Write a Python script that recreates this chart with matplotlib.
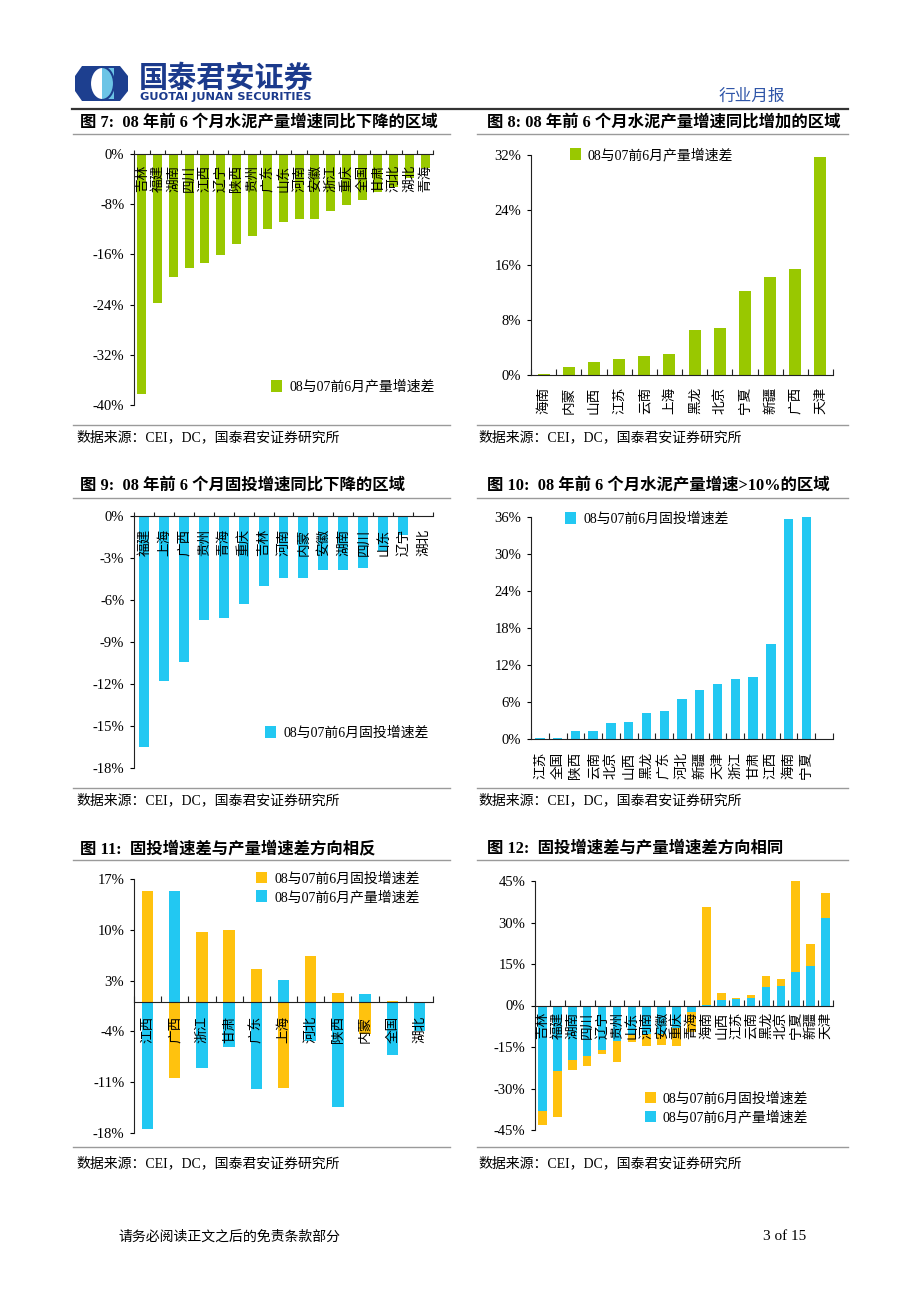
import numpy as np
import matplotlib
matplotlib.use("Agg")
import matplotlib.pyplot as plt
from matplotlib.patches import Patch, Polygon, Ellipse, Rectangle
from matplotlib.font_manager import FontProperties

CJK = "Noto Sans CJK SC"
SERIF = ["Liberation Serif", CJK]
plt.rcParams["font.family"] = [CJK, "DejaVu Sans"]
plt.rcParams["axes.unicode_minus"] = False

GREEN = "#99c800"
BLUE = "#22c8f2"
ORANGE = "#ffc20e"
NAVY = "#1b3a8c"
LINE = "#9a9a9a"

# ---- 数据（%） ----
c7_regions = ["吉林", "福建", "湖南", "四川", "江西", "辽宁", "陕西", "贵州", "广东", "山东",
              "河南", "安徽", "浙江", "重庆", "全国", "甘肃", "河北", "湖北", "青海"]
c7_vals = [-38.2, -23.7, -19.6, -18.1, -17.4, -16.1, -14.4, -13.0, -12.0, -10.8,
           -10.4, -10.4, -9.1, -8.2, -7.3, -6.1, -5.3, -3.9, -2.2]

c8_regions = ["海南", "内蒙", "山西", "江苏", "云南", "上海", "黑龙", "北京", "宁夏", "新疆", "广西", "天津"]
c8_vals = [0.15, 1.2, 1.9, 2.4, 2.7, 3.05, 6.6, 6.9, 12.2, 14.3, 15.4, 31.7]

c9_regions = ["福建", "上海", "广西", "贵州", "青海", "重庆", "吉林", "河南", "内蒙", "安徽",
              "湖南", "四川", "山东", "辽宁", "湖北"]
c9_vals = [-16.5, -11.8, -10.4, -7.4, -7.3, -6.3, -5.0, -4.4, -4.4, -3.86,
           -3.86, -3.7, -2.5, -1.33, 0.0]

c10_regions = ["江苏", "全国", "陕西", "云南", "北京", "山西", "黑龙", "广东", "河北", "新疆",
               "天津", "浙江", "甘肃", "江西", "海南", "宁夏"]
c10_vals = [0.2, 0.2, 1.25, 1.25, 2.55, 2.77, 4.2, 4.55, 6.45, 7.9,
            8.9, 9.65, 10.0, 15.4, 35.6, 36.3]

c11_regions = ["江西", "广西", "浙江", "甘肃", "广东", "上海", "河北", "陕西", "内蒙", "全国", "湖北"]
c11_inv = [15.4, -10.4, 9.65, 10.0, 4.55, -11.8, 6.45, 1.25, -4.4, 0.2, 0.0]
c11_out = [-17.4, 15.4, -9.1, -6.1, -12.0, 3.05, -5.3, -14.4, 1.2, -7.3, -3.9]

c12_regions = ["吉林", "福建", "湖南", "四川", "辽宁", "贵州", "山东", "河南", "安徽", "重庆",
               "青海", "海南", "山西", "江苏", "云南", "黑龙", "北京", "宁夏", "新疆", "天津"]
c12_out = [-38.2, -23.7, -19.6, -18.1, -16.1, -13.0, -10.8, -10.4, -10.4, -8.2,
           -2.2, 0.15, 1.9, 2.4, 2.7, 6.6, 6.9, 12.2, 14.3, 31.7]
c12_inv = [-5.0, -16.5, -3.86, -3.7, -1.33, -7.4, -2.5, -4.4, -3.86, -6.3,
           -7.3, 35.6, 2.77, 0.2, 1.25, 4.2, 2.55, 36.3, 7.9, 8.9]

LBL_INV = "08与07前6月固投增速差"
LBL_OUT = "08与07前6月产量增速差"

W, H = 920, 1302
fig = plt.figure(figsize=(W / 100, H / 100), dpi=100)
fig.patch.set_facecolor("white")

# 整页坐标层（像素）
page = fig.add_axes([0, 0, 1, 1])
page.set_xlim(0, W)
page.set_ylim(H, 0)
page.axis("off")


def add_ax(l, t, r, b):
    return fig.add_axes([l / W, 1 - b / H, (r - l) / W, (b - t) / H])


def style(ax, n, ticks, top=False, zero=False, extra=0):
    ax.set_xlim(-0.5, n - 0.5 + extra)
    ax.spines["right"].set_visible(False)
    if top:
        ax.spines["bottom"].set_visible(False)
        ax.xaxis.tick_top()
        ax.tick_params(axis="x", direction="out", length=3)
    else:
        ax.spines["top"].set_visible(False)
        ax.tick_params(axis="x", direction="in", length=4)
        if zero:
            ax.spines["bottom"].set_position(("data", 0))
    for s in ax.spines.values():
        s.set_color("#222222")
        s.set_linewidth(0.8)
    ax.set_xticks(np.arange(-0.5, ax.get_xlim()[1] + 0.01, 1.0))
    ax.set_xticklabels([])
    ax.set_yticks(ticks)
    ax.set_yticklabels([f"{t:.0f}%" for t in ticks], family=SERIF, fontsize=10.5)
    ax.tick_params(axis="y", direction="out", length=3, width=0.8, pad=4)
    ax.tick_params(axis="x", width=0.8, color="#222222")
    ax.patch.set_alpha(0)


def cat_labels(ax, regions, off):
    for i, name in enumerate(regions):
        ax.annotate(name, (i, 0), xytext=(0, -off), textcoords="offset points",
                    rotation=90, ha="center", va="top", fontsize=9.8, family=CJK,
                    annotation_clip=False)


def legend(ax, items, x, y):
    handles = [Patch(facecolor=c, edgecolor="none") for c, _ in items]
    ax.legend(handles, [t for _, t in items], loc="center left", bbox_to_anchor=(x, y),
              frameon=False, handlelength=0.8, handleheight=0.9, handletextpad=0.5,
              borderaxespad=0, labelspacing=0.35,
              prop=FontProperties(family=SERIF, size=10))


# 图 7
ax = add_ax(134, 154, 433, 405)
ax.bar(range(len(c7_vals)), c7_vals, width=0.57, color=GREEN)
ax.set_ylim(-40, 0)
style(ax, len(c7_vals), [0, -8, -16, -24, -32, -40], top=True)
cat_labels(ax, c7_regions, 7.5)
legend(ax, [(GREEN, LBL_OUT)], 0.44, 0.072)

# 图 8
ax = add_ax(531, 155, 833, 375)
ax.bar(range(len(c8_vals)), c8_vals, width=0.48, color=GREEN)
ax.set_ylim(0, 32)
style(ax, len(c8_vals), [0, 8, 16, 24, 32])
cat_labels(ax, c8_regions, 8.5)
legend(ax, [(GREEN, LBL_OUT)], 0.11, 1.0)

# 图 9
ax = add_ax(134, 516, 433, 768)
ax.bar(range(len(c9_vals)), c9_vals, width=0.5, color=BLUE)
ax.set_ylim(-18, 0)
style(ax, len(c9_vals), [0, -3, -6, -9, -12, -15, -18], top=True)
cat_labels(ax, c9_regions, 9.5)
legend(ax, [(BLUE, LBL_INV)], 0.42, 0.139)

# 图 10（末尾留一个空位）
ax = add_ax(531, 517, 833, 739)
ax.bar(range(len(c10_vals)), c10_vals, width=0.53, color=BLUE)
ax.set_ylim(0, 36)
style(ax, len(c10_vals), [0, 6, 12, 18, 24, 30, 36], extra=1)
cat_labels(ax, c10_regions, 9.0)
legend(ax, [(BLUE, LBL_INV)], 0.095, 0.99)

# 图 11
ax = add_ax(134, 879, 433, 1133)
x = np.arange(len(c11_regions))
ax.bar(x, c11_inv, width=0.42, color=ORANGE)
ax.bar(x, c11_out, width=0.42, color=BLUE)
ax.set_ylim(-18, 17)
style(ax, len(c11_regions), [17, 10, 3, -4, -11, -18], zero=True)
cat_labels(ax, c11_regions, 9.5)
legend(ax, [(ORANGE, LBL_INV), (BLUE, LBL_OUT)], 0.39, 0.965)

# 图 12
ax = add_ax(535, 881, 833, 1130)
x = np.arange(len(c12_regions))
ax.bar(x, c12_out, width=0.58, color=BLUE)
ax.bar(x, c12_inv, width=0.58, bottom=c12_out, color=ORANGE)
ax.set_ylim(-45, 45)
style(ax, len(c12_regions), [45, 30, 15, 0, -15, -30, -45], zero=True)
cat_labels(ax, c12_regions, 4.5)
legend(ax, [(ORANGE, LBL_INV), (BLUE, LBL_OUT)], 0.35, 0.088)

# ---- 页眉 ----
oct_pts = [(75, 76), (82, 66), (120, 66), (128, 76), (128, 91), (120, 101), (82, 101), (75, 91)]
page.add_patch(Polygon(oct_pts, closed=True, facecolor="#1d3f8f", edgecolor="none"))
page.add_patch(Ellipse((102, 83.5), 24, 33, facecolor="white", edgecolor="none"))
page.add_patch(Rectangle((102, 68), 12, 31, facecolor="#6cc4e6", edgecolor="none"))
page.add_patch(Ellipse((102, 83.5), 24, 33, facecolor="none", edgecolor="#1d3f8f", lw=1.5))
page.text(139, 78, "国泰君安证券", fontsize=21, weight="bold", color=NAVY,
          family=CJK, va="center", ha="left")
page.text(140, 97, "GUOTAI JUNAN SECURITIES", fontsize=8.2, weight="bold", color=NAVY,
          family="DejaVu Sans", va="center", ha="left")
page.text(785, 96, "行业月报", fontsize=12, color="#2f55a8", family=CJK, va="center", ha="right")
page.plot([72, 848], [109, 109], color="#333333", lw=1.6)

# ---- 标题、分隔线与来源 ----
titles = [
    ("图 7:  08 年前 6 个月水泥产量增速同比下降的区域", "图 8: 08 年前 6 个月水泥产量增速同比增加的区域", 123, 134, 425, 437),
    ("图 9:  08 年前 6 个月固投增速同比下降的区域", "图 10:  08 年前 6 个月水泥产量增速>10%的区域", 486, 498, 788, 800),
    ("图 11:  固投增速差与产量增速差方向相反", "图 12:  固投增速差与产量增速差方向相同", 849, 860, 1147, 1163),
]
for lt, rt, ty, l1, l2, sy in titles:
    page.text(80, ty, lt, fontsize=11.8, weight="bold", family=SERIF, va="center", ha="left")
    page.text(487, ty, rt, fontsize=11.8, weight="bold", family=SERIF, va="center", ha="left")
    for xa, xb in [(73, 450), (477, 848)]:
        page.plot([xa, xb], [l1, l1], color=LINE, lw=1.0)
        page.plot([xa, xb], [l2, l2], color=LINE, lw=1.0)
    page.text(76, sy, "数据来源：CEI，DC，国泰君安证券研究所", fontsize=10, family=SERIF,
              va="center", ha="left")
    page.text(478, sy, "数据来源：CEI，DC，国泰君安证券研究所", fontsize=10, family=SERIF,
              va="center", ha="left")

# ---- 页脚 ----
page.text(118, 1237, "请务必阅读正文之后的免责条款部分", fontsize=10, family=CJK, va="center", ha="left")
page.text(806, 1237, "3 of 15", fontsize=11, family=SERIF, va="center", ha="right")

fig.savefig("out.png", dpi=100, facecolor="white")
